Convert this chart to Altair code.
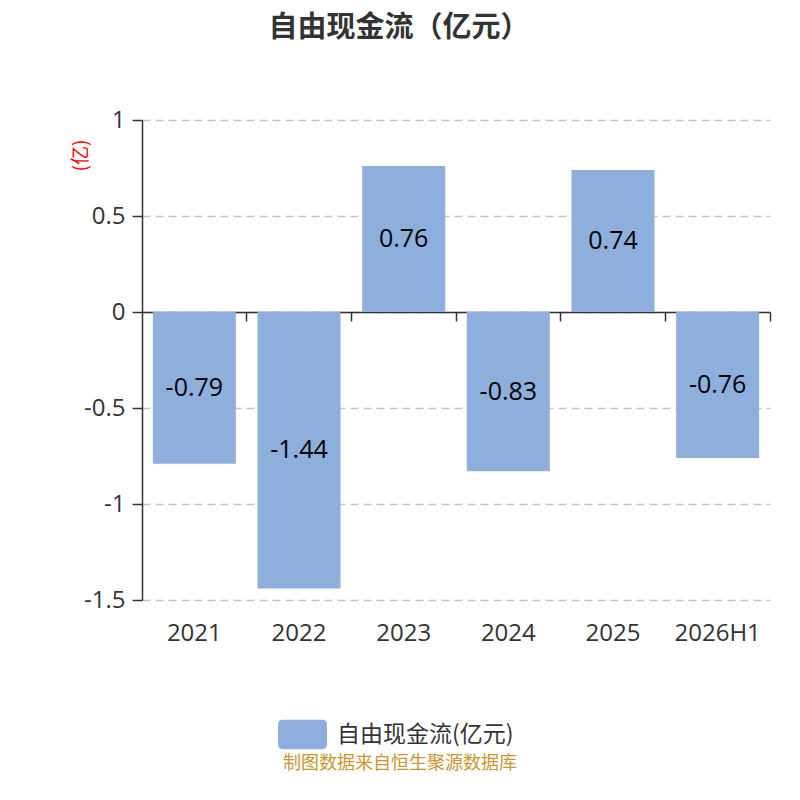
import altair as alt
import pandas as pd

categories = ["2021", "2022", "2023", "2024", "2025", "2026H1"]
values = [-0.79, -1.44, 0.76, -0.83, 0.74, -0.76]
series_name = "自由现金流(亿元)"
title_text = "自由现金流（亿元）"
footer_text = "制图数据来自恒生聚源数据库"
y_ticks = [-1.5, -1, -0.5, 0, 0.5, 1]

df = pd.DataFrame({"cat": categories, "val": values, "series": [series_name] * len(categories)})
df["mid"] = df["val"] / 2
df["lbl"] = [f"{v:.2f}" for v in values]

FONT = "Noto Sans CJK SC"
NUMFONT = "Open Sans"
BAR = "#8EAEDB"

xscale = alt.Scale(domain=categories, paddingInner=0.2, paddingOuter=0.1)
yscale = alt.Scale(domain=[-1.5, 1], nice=False, zero=False)

rr = ("M-0.8,-0.6 L0.8,-0.6 Q1,-0.6 1,-0.4 L1,0.4 Q1,0.6 0.8,0.6 "
      "L-0.8,0.6 Q-1,0.6 -1,0.4 L-1,-0.4 Q-1,-0.6 -0.8,-0.6 Z")

base = alt.Chart(df)

bars = base.mark_bar(size=83).encode(
    x=alt.X("cat:N", scale=xscale, sort=categories,
            axis=alt.Axis(title=None, labelAngle=0, labelFontSize=24, labelColor="#333333",
                          labelFont=NUMFONT, offset=-288, labelPadding=300,
                          domainColor="#333333", domainWidth=1.5, tickColor="#333333",
                          tickWidth=1.5, tickSize=9, bandPosition=1.125, grid=False)),
    y=alt.Y("val:Q", scale=yscale,
            axis=alt.Axis(values=y_ticks, labelExpr="datum.value + ''", labelFontSize=24,
                          labelColor="#333333", labelFont=NUMFONT, domainColor="#333333",
                          domainWidth=1.5, tickColor="#333333", tickSize=10, tickWidth=1.5,
                          labelPadding=7, grid=True, gridColor="#c4c4c4", gridDash=[8, 5],
                          gridWidth=1.4, title="(亿)", titleColor="red", titleFontSize=19,
                          titleFont=FONT, titleFontWeight="normal", titleX=-62, titleY=35,
                          titleAngle=-90, titleAlign="center", titleBaseline="middle")),
    y2=alt.datum(0),
    color=alt.Color("series:N", scale=alt.Scale(range=[BAR]),
                    legend=alt.Legend(title=None, orient="none", legendX=136, legendY=590,
                                      symbolType=rr, symbolSize=2400, symbolOpacity=1,
                                      labelFontSize=23, labelColor="#333333", labelFont=FONT,
                                      labelLimit=400, symbolStrokeWidth=0, labelOffset=10)),
)

labels = base.mark_text(fontSize=25, font=NUMFONT, color="#000000", baseline="middle").encode(
    x=alt.X("cat:N", scale=xscale, sort=categories),
    y=alt.Y("mid:Q", scale=yscale),
    text="lbl:N",
)

footer = alt.Chart(pd.DataFrame({"t": [footer_text]})).mark_text(
    fontSize=18, font=FONT, color="#C8962E", baseline="middle", align="center"
).encode(x=alt.value(258), y=alt.value(644), text="t:N")

chart = alt.layer(bars, labels, footer).properties(
    width=628, height=480,
    title=alt.TitleParams(title_text, fontSize=29, fontWeight="bold", font=FONT,
                          color="#333333", anchor="middle", frame="group", dx=-57,
                          baseline="middle", offset=51),
    autosize=alt.AutoSizeParams(type="none"),
    padding={"left": 134, "top": 112, "right": 22, "bottom": 192},
).configure_view(stroke=None)

chart.save("out.html", embed_options={"renderer": "svg", "actions": False})
